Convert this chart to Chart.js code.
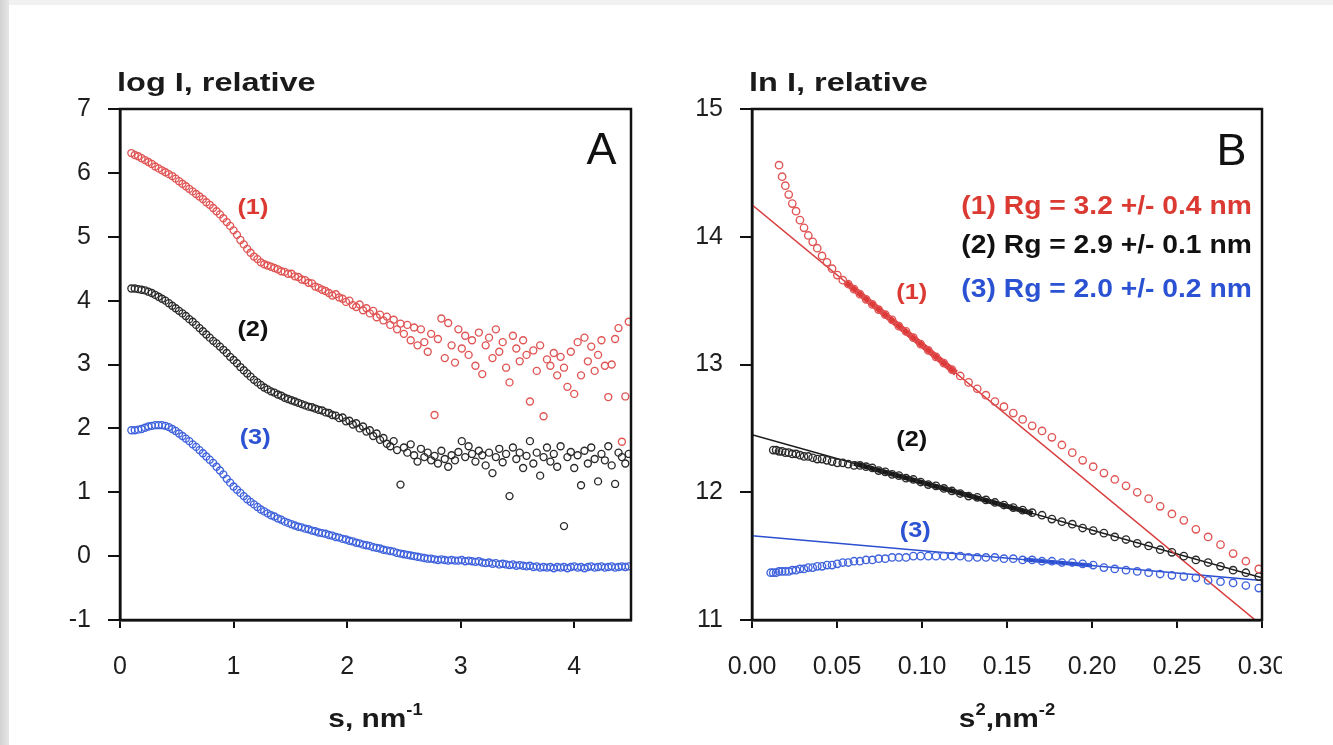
<!DOCTYPE html>
<html>
<head>
<meta charset="utf-8">
<script src="https://cdn.jsdelivr.net/npm/chart.js@4.4.0/dist/chart.umd.min.js"></script>
<style>
  html, body { margin: 0; padding: 0; }
  body { width: 1333px; height: 745px; position: relative; overflow: hidden; background: #fff; }
  .edgeL { position: absolute; left: 0; top: 0; width: 9px; height: 745px; background: linear-gradient(to right, #d2d2d2, #e6e6e6); }
  .edgeT { position: absolute; left: 0; top: 0; width: 1333px; height: 5px; background: #f1f1f1; }
  #wrapA { position: absolute; left: 0; top: 0; width: 660px; height: 745px; }
  #wrapB { position: absolute; left: 660px; top: 0; width: 622px; height: 745px; }
</style>
</head>
<body>
<div class="edgeT"></div>
<div class="edgeL"></div>
<div id="wrapA"><canvas id="chartA"></canvas></div>
<div id="wrapB"><canvas id="chartB"></canvas></div>

<script>
// ---- panel A : log I vs s ----
const sGrid = [
  0.10,0.13,0.16,0.19,0.22,0.25,0.28,0.31,0.34,0.37,
  0.40,0.43,0.46,0.49,0.52,0.55,0.58,0.61,0.64,0.67,
  0.70,0.73,0.76,0.79,0.82,0.85,0.88,0.91,0.94,0.97,
  1.00,1.03,1.06,1.09,1.12,1.15,1.18,1.21,1.24,1.27,
  1.30,1.33,1.36,1.39,1.42,1.45,1.48,1.51,1.54,1.57,
  1.60,1.63,1.66,1.69,1.72,1.75,1.78,1.81,1.84,1.87,
  1.90,1.93,1.96,1.99,2.02,2.05,2.08,2.11,2.14,2.17,
  2.20,2.23,2.26,2.29,2.32,2.35,2.38,2.41,2.44,2.47,
  2.50,2.53,2.56,2.59,2.62,2.65,2.68,2.71,2.74,2.77,
  2.80,2.83,2.86,2.89,2.92,2.95,2.98,3.01,3.04,3.07,
  3.10,3.13,3.16,3.19,3.22,3.25,3.28,3.31,3.34,3.37,
  3.40,3.43,3.46,3.49,3.52,3.55,3.58,3.61,3.64,3.67,
  3.70,3.73,3.76,3.79,3.82,3.85,3.88,3.91,3.94,3.97,
  4.00,4.03,4.06,4.09,4.12,4.15,4.18,4.21,4.24,4.27,
  4.30,4.33,4.36,4.39,4.42,4.45,4.48
];

const logI1 = [
  6.31,6.28,6.26,6.23,6.20,6.17,6.14,6.10,6.07,6.04,
  6.01,5.98,5.95,5.91,5.87,5.83,5.79,5.75,5.71,5.67,
  5.63,5.59,5.54,5.50,5.45,5.40,5.35,5.29,5.23,5.17,
  5.10,5.03,4.95,4.88,4.81,4.75,4.69,4.65,4.60,4.57,
  4.55,4.53,4.51,4.49,4.46,4.45,4.42,4.42,4.38,4.37,
  4.33,4.32,4.28,4.27,4.22,4.20,4.17,4.15,4.12,4.08,
  4.10,4.05,4.03,3.98,4.00,3.93,3.90,3.94,3.85,3.88,
  3.80,3.84,3.74,3.78,3.69,3.75,3.62,3.70,3.55,3.64,
  3.48,3.62,3.38,3.58,3.30,3.55,3.35,3.20,3.48,2.21,
  3.40,3.72,3.10,3.65,3.30,3.03,3.55,3.25,3.45,3.15,
  3.38,2.98,3.50,2.85,3.30,3.42,3.10,3.55,3.20,3.35,
  2.95,2.72,3.45,3.25,3.05,3.38,3.15,2.42,3.22,2.90,
  3.30,2.19,3.08,2.98,3.18,2.83,3.12,2.95,2.65,3.20,
  2.54,3.35,2.83,3.42,3.05,3.28,2.90,3.15,3.38,2.98,
  2.49,3.00,3.40,3.57,1.79,2.50,3.67
];

const logI2 = [
  4.19,4.19,4.18,4.17,4.16,4.14,4.12,4.09,4.06,4.03,
  4.00,3.96,3.92,3.88,3.84,3.80,3.76,3.71,3.67,3.62,
  3.57,3.52,3.47,3.42,3.37,3.33,3.28,3.23,3.18,3.12,
  3.07,3.02,2.96,2.91,2.86,2.81,2.76,2.72,2.68,2.64,
  2.61,2.58,2.56,2.53,2.51,2.48,2.46,2.44,2.42,2.40,
  2.38,2.36,2.34,2.33,2.31,2.29,2.28,2.25,2.24,2.21,
  2.20,2.16,2.17,2.11,2.12,2.06,2.08,2.00,2.03,1.95,
  1.97,1.88,1.92,1.82,1.85,1.76,1.72,1.80,1.66,1.12,
  1.70,1.62,1.75,1.58,1.48,1.68,1.55,1.62,1.50,1.57,
  1.45,1.65,1.52,1.40,1.58,1.50,1.63,1.80,1.55,1.72,
  1.60,1.48,1.65,1.58,1.42,1.62,1.30,1.55,1.68,1.47,
  1.60,0.94,1.70,1.52,1.62,1.38,1.57,1.80,1.45,1.62,
  1.26,1.55,1.70,1.48,1.60,1.40,1.72,0.47,1.55,1.63,
  1.38,1.58,1.11,1.65,1.45,1.70,1.52,1.17,1.60,1.50,
  1.72,1.42,1.13,1.62,1.55,1.45,1.60
];

const logI3 = [
  1.97,1.97,1.98,1.99,2.01,2.03,2.04,2.05,2.05,2.05,
  2.04,2.02,1.99,1.96,1.92,1.88,1.84,1.80,1.75,1.71,
  1.66,1.61,1.56,1.51,1.46,1.40,1.34,1.28,1.21,1.15,
  1.09,1.04,0.99,0.94,0.89,0.85,0.81,0.77,0.73,0.70,
  0.67,0.64,0.62,0.59,0.57,0.54,0.52,0.50,0.48,0.46,
  0.45,0.43,0.42,0.40,0.39,0.37,0.36,0.35,0.33,0.32,
  0.30,0.29,0.27,0.26,0.24,0.23,0.21,0.20,0.18,0.17,
  0.16,0.14,0.13,0.12,0.10,0.09,0.08,0.07,0.05,0.04,
  0.03,0.02,0.01,0.00,-0.01,-0.02,-0.03,-0.04,-0.04,-0.05,
  -0.06,-0.05,-0.06,-0.07,-0.06,-0.07,-0.07,-0.06,-0.08,-0.07,
  -0.08,-0.09,-0.08,-0.10,-0.11,-0.10,-0.12,-0.11,-0.13,-0.12,
  -0.13,-0.14,-0.13,-0.15,-0.14,-0.15,-0.16,-0.15,-0.17,-0.16,
  -0.18,-0.17,-0.18,-0.17,-0.19,-0.17,-0.18,-0.17,-0.19,-0.17,
  -0.16,-0.18,-0.17,-0.19,-0.17,-0.16,-0.18,-0.17,-0.16,-0.18,
  -0.17,-0.16,-0.18,-0.17,-0.16,-0.17,-0.16
];

// ---- panel B : Guinier plot, ln I vs s^2 ----
const s2Grid = [
  0.0110,0.0125,0.0142,0.0159,0.0177,0.0196,0.0216,0.0237,0.0259,0.0282,
  0.0306,0.0331,0.0357,0.0384,0.0412,0.0441,0.0471,0.0502,0.0534,0.0566,
  0.0600,0.0635,0.0671,0.0708,0.0745,0.0784,0.0824,0.0864,0.0906,0.0949,
  0.0992,0.1037,0.1082,0.1129,0.1176,0.1225,0.1274,0.1325,0.1376,0.1429,
  0.1482,0.1537,0.1592,0.1648,0.1706,0.1764,0.1823,0.1884,0.1945,0.2007,
  0.2070,0.2134,0.2200,0.2266,0.2333,0.2401,0.2470,0.2540,0.2611,0.2683,
  0.2756,0.2830,0.2905,0.2981
];

const lnI1 = [
  null,null,null,14.56,14.47,14.40,14.33,14.26,14.20,14.13,
  14.07,14.01,13.96,13.91,13.85,13.80,13.75,13.70,13.66,13.63,
  13.59,13.55,13.51,13.47,13.43,13.39,13.35,13.30,13.26,13.21,
  13.16,13.11,13.06,13.01,12.96,12.91,12.86,12.81,12.76,12.71,
  12.67,12.62,12.57,12.52,12.48,12.43,12.37,12.31,12.25,12.20,
  12.15,12.10,12.05,12.00,11.95,11.89,11.83,11.78,11.71,11.65,
  11.59,11.52,11.46,11.40
];

const lnI2 = [
  null,12.33,12.33,12.32,12.32,12.31,12.31,12.30,12.30,12.29,
  12.28,12.28,12.27,12.26,12.26,12.25,12.24,12.23,12.23,12.22,
  12.21,12.21,12.20,12.19,12.17,12.16,12.14,12.13,12.11,12.10,
  12.08,12.06,12.05,12.03,12.01,11.99,11.97,11.96,11.94,11.92,
  11.90,11.88,11.86,11.84,11.82,11.79,11.77,11.75,11.72,11.70,
  11.68,11.65,11.63,11.60,11.58,11.55,11.53,11.50,11.47,11.45,
  11.42,11.39,11.37,11.34
];

const lnI3 = [
  11.37,11.37,11.37,11.38,11.38,11.38,11.38,11.39,11.39,11.40,
  11.40,11.41,11.41,11.42,11.42,11.43,11.43,11.44,11.45,11.45,
  11.46,11.46,11.47,11.47,11.48,11.48,11.49,11.49,11.49,11.50,
  11.50,11.50,11.50,11.50,11.50,11.50,11.49,11.49,11.49,11.49,
  11.48,11.48,11.47,11.47,11.46,11.46,11.45,11.45,11.44,11.43,
  11.41,11.40,11.39,11.38,11.37,11.36,11.35,11.34,11.33,11.31,
  11.30,11.29,11.27,11.25
];

// Guinier fits (full line) and the fitted s^2 range (bold part)
const fitQ = [0, 0.30];
const fit1 = [14.25, 10.956];
const fit2 = [12.45, 11.33];
const fit3 = [11.66, 11.31];
const boldQ1 = [0.055, 0.12],  bold1 = [13.646, 12.932];
const boldQ2 = [0.06, 0.165],  bold2 = [12.226, 11.835];
const boldQ3 = [0.16, 0.20],   bold3 = [11.473, 11.426];

const rgLines = ["(1) Rg = 3.2 +/- 0.4 nm", "(2) Rg = 2.9 +/- 0.1 nm", "(3) Rg = 2.0 +/- 0.2 nm"];

const RED = "#e05454", RED_TXT = "#db3a33";
const BLACK = "#2a2a2a", BLUE = "#3f62dc", BLUE_TXT = "#2b52d2";
const FONT = "'Liberation Sans', Arial, Helvetica, sans-serif";

Chart.defaults.font.family = FONT;
Chart.defaults.color = "#1e1e1e";

function pts(xs, ys) {
  return xs.map((x, i) => ({ x: x, y: ys[i] })).filter(p => p.y !== null);
}

function markers(data, color, r) {
  return {
    data: data, showLine: false, order: 1,
    pointStyle: "circle", pointRadius: r, pointHoverRadius: r,
    pointBorderWidth: 1.35, pointBorderColor: color,
    pointBackgroundColor: "rgba(255,255,255,0)"
  };
}

function fitLine(data, color, w) {
  return {
    data: data, showLine: true, order: 2, borderColor: color, borderWidth: w,
    pointRadius: 0, pointHoverRadius: 0, fill: false
  };
}

// text helper, sx stretches horizontally like the scanned figure
function txt(ctx, s, x, y, font, color, align, sx, base) {
  ctx.save();
  ctx.font = font;
  ctx.fillStyle = color;
  ctx.textAlign = align || "left";
  ctx.textBaseline = base || "alphabetic";
  ctx.translate(x, y);
  ctx.scale(sx || 1, 1);
  ctx.fillText(s, 0, 0);
  ctx.restore();
}

// runs of normal / superscript text, centred on cx
function runs(ctx, parts, cx, y, sx) {
  const big = "bold 26px " + FONT, small = "bold 16px " + FONT;
  let total = 0;
  parts.forEach(p => { ctx.font = p.sup ? small : big; total += ctx.measureText(p.t).width * sx; });
  let x = cx - total / 2;
  parts.forEach(p => {
    ctx.font = p.sup ? small : big;
    txt(ctx, p.t, x, p.sup ? y - 12 : y, p.sup ? small : big, "#1a1a1a", "left", sx);
    x += ctx.measureText(p.t).width * sx;
  });
}

function notes(cfg) {
  return {
    id: "notes",
    afterDatasetsDraw(chart) {
      const ctx = chart.ctx, a = chart.chartArea;
      const xs = chart.scales.x, ys = chart.scales.y;
      // frame
      ctx.save();
      ctx.strokeStyle = "#111";
      ctx.lineWidth = 2.5;
      ctx.strokeRect(a.left, a.top, a.right - a.left, a.bottom - a.top);
      ctx.restore();
      // y title above the axis
      txt(ctx, cfg.yTitle, a.left - 3, a.top - 18, "bold 26px " + FONT, "#1a1a1a", "left", 1.25);
      // x title with superscripts
      runs(ctx, cfg.xTitle, (a.left + a.right) / 2, a.bottom + 107, 1.15);
      // labels placed in data units
      cfg.labels.forEach(l => {
        txt(ctx, l.t, xs.getPixelForValue(l.x), ys.getPixelForValue(l.y), l.font, l.color,
            l.align || "center", l.sx || 1.15, "middle");
      });
    }
  };
}

function axes(xMin, xMax, xStep, xFmt, yMin, yMax, yWidth) {
  return {
    x: {
      type: "linear", min: xMin, max: xMax,
      ticks: { stepSize: xStep, includeBounds: false, autoSkip: false, maxRotation: 0,
               padding: 24, color: "#1e1e1e", font: { size: 25 }, callback: xFmt },
      grid: { drawOnChartArea: false, drawTicks: true, tickLength: 8, color: "#111", lineWidth: 2 },
      border: { color: "#111", width: 2.5 },
      afterFit: s => { s.height = 60; s.paddingLeft = 0; s.paddingRight = 0; }
    },
    y: {
      type: "linear", min: yMin, max: yMax,
      ticks: { stepSize: 1, padding: 17, color: "#1e1e1e", font: { size: 25 }, callback: v => String(v) },
      grid: { drawOnChartArea: false, drawTicks: true, tickLength: 12, color: "#111", lineWidth: 2 },
      border: { color: "#111", width: 2.5 },
      afterFit: s => { s.width = yWidth; s.paddingTop = 0; s.paddingBottom = 0; }
    }
  };
}

const base = {
  responsive: true, maintainAspectRatio: false, animation: false,
  plugins: { legend: { display: false }, tooltip: { enabled: false } },
  events: []
};

// Panel A
new Chart(document.getElementById("chartA"), {
  type: "scatter",
  data: {
    datasets: [
      markers(pts(sGrid, logI1), RED, 3.5),
      markers(pts(sGrid, logI2), BLACK, 3.5),
      markers(pts(sGrid, logI3), BLUE, 3.5)
    ]
  },
  options: Object.assign({}, base, {
    layout: { padding: { left: 0, top: 109, right: 29, bottom: 65 } },
    scales: axes(0, 4.5, 1, v => String(v), -1, 7, 120)
  }),
  plugins: [notes({
    yTitle: "log I, relative",
    xTitle: [{ t: "s, nm" }, { t: "-1", sup: true }],
    labels: [
      { t: "A", x: 4.24, y: 6.33, font: "45px " + FONT, color: "#111", sx: 1 },
      { t: "(1)", x: 1.17, y: 5.45, font: "bold 22px " + FONT, color: RED_TXT },
      { t: "(2)", x: 1.17, y: 3.54, font: "bold 22px " + FONT, color: "#111" },
      { t: "(3)", x: 1.19, y: 1.85, font: "bold 22px " + FONT, color: BLUE_TXT }
    ]
  })]
});

// Panel B
new Chart(document.getElementById("chartB"), {
  type: "scatter",
  data: {
    datasets: [
      markers(pts(s2Grid, lnI1), RED, 3.7),
      markers(pts(s2Grid, lnI2), BLACK, 3.7),
      markers(pts(s2Grid, lnI3), BLUE, 3.7),
      fitLine(pts(fitQ, fit1), "#d83c3c", 1.5),
      fitLine(pts(fitQ, fit2), "#1a1a1a", 1.5),
      fitLine(pts(fitQ, fit3), "#2b4fd0", 1.5),
      fitLine(pts(boldQ1, bold1), "#e03c3c", 6),
      fitLine(pts(boldQ2, bold2), "#1a1a1a", 5),
      fitLine(pts(boldQ3, bold3), "#2b4fd0", 4)
    ]
  },
  options: Object.assign({}, base, {
    layout: { padding: { left: 0, top: 109, right: 20, bottom: 65 } },
    scales: axes(0, 0.30, 0.05, v => v.toFixed(2), 11, 15, 92)
  }),
  plugins: [notes({
    yTitle: "ln I, relative",
    xTitle: [{ t: "s" }, { t: "2", sup: true }, { t: ",nm" }, { t: "-2", sup: true }],
    labels: [
      { t: "B", x: 0.282, y: 14.66, font: "45px " + FONT, color: "#111", sx: 1 },
      { t: rgLines[0], x: 0.294, y: 14.23, font: "bold 25px " + FONT, color: RED_TXT, align: "right", sx: 1.13 },
      { t: rgLines[1], x: 0.294, y: 13.93, font: "bold 25px " + FONT, color: "#111", align: "right", sx: 1.13 },
      { t: rgLines[2], x: 0.294, y: 13.58, font: "bold 25px " + FONT, color: BLUE_TXT, align: "right", sx: 1.13 },
      { t: "(1)", x: 0.094, y: 13.56, font: "bold 22px " + FONT, color: RED_TXT },
      { t: "(2)", x: 0.094, y: 12.41, font: "bold 22px " + FONT, color: "#111" },
      { t: "(3)", x: 0.096, y: 11.70, font: "bold 22px " + FONT, color: BLUE_TXT }
    ]
  })]
});
</script>
</body>
</html>
